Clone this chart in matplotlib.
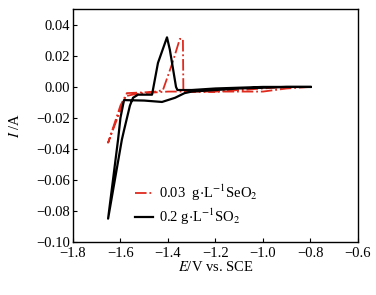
import matplotlib
matplotlib.use("Agg")
import matplotlib.pyplot as plt

plt.rcParams['font.family'] = ['Liberation Serif', 'DejaVu Serif']
plt.rcParams['mathtext.fontset'] = 'stix'

# SO2 curve (black): cathodic scan from -0.8 V, then return scan
so2_e = [-0.80, -0.90, -1.00, -1.10, -1.20, -1.30, -1.33, -1.37, -1.425, -1.50,
         -1.585, -1.60, -1.61, -1.652,
         -1.594, -1.585, -1.56, -1.547, -1.526, -1.476, -1.467, -1.442, -1.404,
         -1.392, -1.366, -1.36, -1.30, -1.20, -1.00, -0.80]
so2_i = [0.000, 0.000, -0.0005, -0.001, -0.002, -0.003, -0.004, -0.007, -0.0097, -0.0088,
         -0.0085, -0.020, -0.034, -0.085,
         -0.034, -0.028, -0.012, -0.007, -0.005, -0.005, -0.005, 0.0155, 0.032,
         0.024, 0.000, -0.002, -0.002, -0.001, 0.000, 0.000]

# SeO2 curve (red dash-dot)
seo2_e = [-0.80, -0.85, -0.90, -1.00, -1.10, -1.20, -1.30, -1.40, -1.50, -1.55,
          -1.58, -1.60, -1.652,
          -1.573, -1.50, -1.45, -1.421, -1.38, -1.35, -1.337, -1.335,
          -1.30, -1.20, -1.10, -1.00, -0.90, -0.80]
seo2_i = [0.000, -0.0005, -0.001, -0.003, -0.003, -0.003, -0.003, -0.003, -0.004, -0.005,
          -0.006, -0.012, -0.036,
          -0.004, -0.0035, -0.003, -0.002, 0.016, 0.031, 0.031, -0.003,
          -0.003, -0.003, -0.002, -0.001, 0.000, 0.000]

fig = plt.figure(figsize=(3.76, 2.95), dpi=100)
ax = fig.add_axes([0.194, 0.180, 0.758, 0.788])

ax.plot(seo2_e, seo2_i, color='#e02a1e', lw=1.3, ls='-.',
        label=r'0.03  g$\cdot$L$^{-1}$SeO$_2$')
ax.plot(so2_e, so2_i, color='black', lw=1.6,
        label=r'0.2 g$\cdot$L$^{-1}$SO$_2$')

ax.set_xlim(-1.8, -0.6)
ax.set_ylim(-0.10, 0.05)
ax.set_xticks([-1.8, -1.6, -1.4, -1.2, -1.0, -0.8, -0.6])
ax.set_yticks([-0.10, -0.08, -0.06, -0.04, -0.02, 0.00, 0.02, 0.04])
ax.set_xticklabels(['\u22121.8', '\u22121.6', '\u22121.4', '\u22121.2', '\u22121.0', '\u22120.8', '\u22120.6'])
ax.set_yticklabels(['\u22120.10', '\u22120.08', '\u22120.06', '\u22120.04', '\u22120.02', '0.00', '0.02', '0.04'])
ax.tick_params(direction='in', length=3, labelsize=10.5)
ax.tick_params(axis='x', pad=4)
ax.tick_params(axis='y', pad=2)
for s in ax.spines.values():
    s.set_linewidth(1.0)

ax.set_xlabel(r'$E$/V vs. SCE', fontsize=10.5, labelpad=0)
ax.set_ylabel(r'$I$ /A', fontsize=10.5, labelpad=10)

ax.legend(loc='upper left', bbox_to_anchor=(0.17, 0.31), frameon=False,
          fontsize=10.5, handlelength=1.3, handletextpad=0.4, labelspacing=0.25)

fig.savefig('out.png', dpi=100)
